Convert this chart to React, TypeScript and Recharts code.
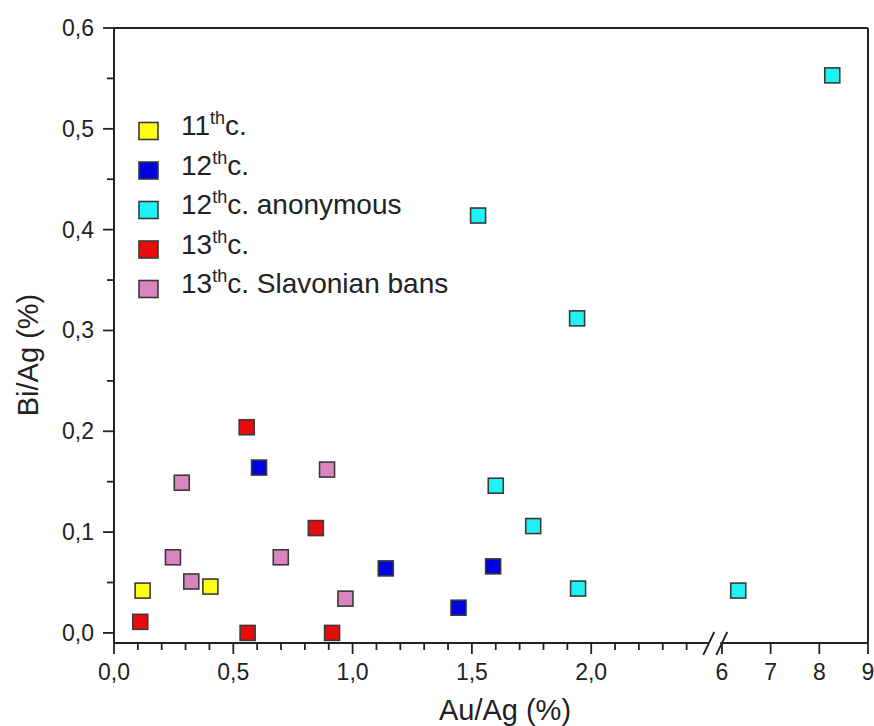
import { ScatterChart, Scatter, XAxis, YAxis, ReferenceLine } from 'recharts'

const INK = '#222222'
const MARK_STROKE = '#3a3a3a'
const FONT = '"Liberation Sans", Arial, sans-serif'

// Au/Ag (%) and Bi/Ag (%) per group
const C11_AU = [0.12, 0.404]
const C11_BI = [0.042, 0.046]

const C12_AU = [0.608, 1.139, 1.444, 1.589]
const C12_BI = [0.164, 0.064, 0.025, 0.066]

const C12A_AU = [1.526, 1.941, 1.6, 1.757, 1.945, 6.335, 8.266]
const C12A_BI = [0.414, 0.312, 0.146, 0.106, 0.044, 0.042, 0.553]

const C13_AU = [0.11, 0.556, 0.56, 0.846, 0.914]
const C13_BI = [0.011, 0.204, 0.0, 0.104, 0.0]

const C13S_AU = [0.284, 0.247, 0.324, 0.699, 0.893, 0.97]
const C13S_BI = [0.149, 0.075, 0.051, 0.075, 0.162, 0.034]

const X_MAJOR_LOW = [0, 0.5, 1, 1.5, 2]
const X_MINOR_LOW = [0.1, 0.2, 0.3, 0.4, 0.6, 0.7, 0.8, 0.9, 1.1, 1.2, 1.3, 1.4, 1.6, 1.7, 1.8, 1.9, 2.1, 2.2, 2.3, 2.4]
const X_MAJOR_HIGH = [6, 7, 8, 9]
const Y_MAJOR = [0, 0.1, 0.2, 0.3, 0.4, 0.5, 0.6]
const Y_MINOR = [0.05, 0.15, 0.25, 0.35, 0.45, 0.55]

// broken x axis: 0..2.5 linear, then 6..9 compressed
const HIGH_START = 2.548
const HIGH_K = 0.20405
const BREAK_T = 2.499
const toT = (x: number) => (x <= 3 ? x : HIGH_START + (x - 6) * HIGH_K)
const X_MAX = toT(9)

const SERIES = [
  { num: '11', rest: 'c.', color: '#FFFF14', au: C11_AU, bi: C11_BI },
  { num: '12', rest: 'c.', color: '#0000E0', au: C12_AU, bi: C12_BI },
  { num: '12', rest: 'c. anonymous', color: '#1EF2F2', au: C12A_AU, bi: C12A_BI },
  { num: '13', rest: 'c.', color: '#E80C0C', au: C13_AU, bi: C13_BI },
  { num: '13', rest: 'c. Slavonian bans', color: '#DA84C0', au: C13S_AU, bi: C13S_BI },
]

const fmt = (v: number) => v.toFixed(1).replace('.', ',')

type XTickInfo = { t: number; label: string; major: boolean; brk?: boolean }
const X_TICKS: XTickInfo[] = [
  ...X_MAJOR_LOW.map((v) => ({ t: v, label: fmt(v), major: true })),
  ...X_MINOR_LOW.map((v) => ({ t: v, label: '', major: false })),
  { t: BREAK_T, label: '', major: false, brk: true },
  ...X_MAJOR_HIGH.map((v) => ({ t: toT(v), label: String(v), major: true })),
]

const findX = (t: number) => X_TICKS.reduce((a, b) => (Math.abs(b.t - t) < Math.abs(a.t - t) ? b : a))

function XTick(props: any) {
  const { x, y, payload } = props
  const info = findX(payload.value)
  if (info.brk) {
    return (
      <g>
        <rect x={x - 2} y={y - 3} width={12} height={6} fill="#fff" />
        <line x1={x - 7} y1={y + 12} x2={x + 4} y2={y - 11} stroke={INK} strokeWidth={1.8} />
        <line x1={x + 6} y1={y + 12} x2={x + 17} y2={y - 11} stroke={INK} strokeWidth={1.8} />
      </g>
    )
  }
  return (
    <g>
      <line x1={x} y1={y} x2={x} y2={y + (info.major ? 11 : 7)} stroke={INK} strokeWidth={1.8} />
      {info.label && (
        <text x={x} y={y + 37} textAnchor="middle" fontSize={23} fill={INK} fontFamily={FONT}>
          {info.label}
        </text>
      )}
    </g>
  )
}

function YTick(props: any) {
  const { x, y, payload } = props
  const v: number = payload.value
  const major = Y_MAJOR.some((m) => Math.abs(m - v) < 1e-6)
  return (
    <g>
      <line x1={x} y1={y} x2={x - (major ? 11 : 7)} y2={y} stroke={INK} strokeWidth={1.8} />
      {major && (
        <text x={x - 20} y={y + 8} textAnchor="end" fontSize={23} fill={INK} fontFamily={FONT}>
          {fmt(v)}
        </text>
      )}
    </g>
  )
}

function SquareMark(props: any) {
  const { cx, cy, fill } = props
  return <rect x={cx - 7.5} y={cy - 7.5} width={15} height={15} fill={fill} stroke={MARK_STROKE} strokeWidth={1.6} />
}

function ChartLegend() {
  const rows = [131, 170.5, 210, 249.5, 289]
  return (
    <svg width={874} height={726} style={{ position: 'absolute', left: 0, top: 0, pointerEvents: 'none' }}>
      {SERIES.map((s, i) => (
        <g key={i}>
          <rect x={139} y={rows[i] - 8.5} width={19} height={17} fill={s.color} stroke={MARK_STROKE} strokeWidth={1.6} />
          <text x={181} y={rows[i] + 4} fontSize={28} fill={INK} fontFamily={FONT}>
            {s.num}
            <tspan fontSize={18} dy={-11}>th</tspan>
            <tspan dy={11}>{s.rest}</tspan>
          </text>
        </g>
      ))}
    </svg>
  )
}

export default function App() {
  return (
    <div style={{ position: 'absolute', left: 0, top: 0, width: 874, height: 726, background: '#fff' }}>
      <ScatterChart width={874} height={726} margin={{ top: 28, right: 6, bottom: 0, left: 0 }}>
        <XAxis
          type="number"
          dataKey="t"
          domain={[0, X_MAX]}
          ticks={X_TICKS.map((d) => d.t)}
          interval={0}
          allowDataOverflow
          height={83}
          tickSize={0}
          tickMargin={0}
          tickLine={false}
          axisLine={{ stroke: INK, strokeWidth: 2 }}
          tick={(p: any) => <XTick {...p} />}
          label={({ viewBox }: any) => (
            <text
              x={viewBox.x + viewBox.width / 2 + 14}
              y={720}
              textAnchor="middle"
              fontSize={29}
              fill={INK}
              fontFamily={FONT}
            >
              Au/Ag (%)
            </text>
          )}
        />
        <YAxis
          type="number"
          dataKey="y"
          domain={[-0.01, 0.6]}
          ticks={[...Y_MAJOR, ...Y_MINOR]}
          interval={0}
          allowDataOverflow
          width={114}
          tickSize={0}
          tickMargin={0}
          tickLine={false}
          axisLine={{ stroke: INK, strokeWidth: 2 }}
          tick={(p: any) => <YTick {...p} />}
          label={() => (
            <text
              x={38}
              y={355}
              transform="rotate(-90, 38, 355)"
              textAnchor="middle"
              fontSize={29}
              fill={INK}
              fontFamily={FONT}
            >
              Bi/Ag (%)
            </text>
          )}
        />
        <ReferenceLine y={0.6} stroke={INK} strokeWidth={2} />
        <ReferenceLine x={X_MAX} stroke={INK} strokeWidth={2} />
        {SERIES.map((s, i) => (
          <Scatter
            key={i}
            name={`${s.num}th ${s.rest}`}
            data={s.au.map((x, j) => ({ t: toT(x), y: s.bi[j] }))}
            fill={s.color}
            shape={(p: any) => <SquareMark {...p} />}
            isAnimationActive={false}
          />
        ))}
      </ScatterChart>
      <ChartLegend />
    </div>
  )
}
